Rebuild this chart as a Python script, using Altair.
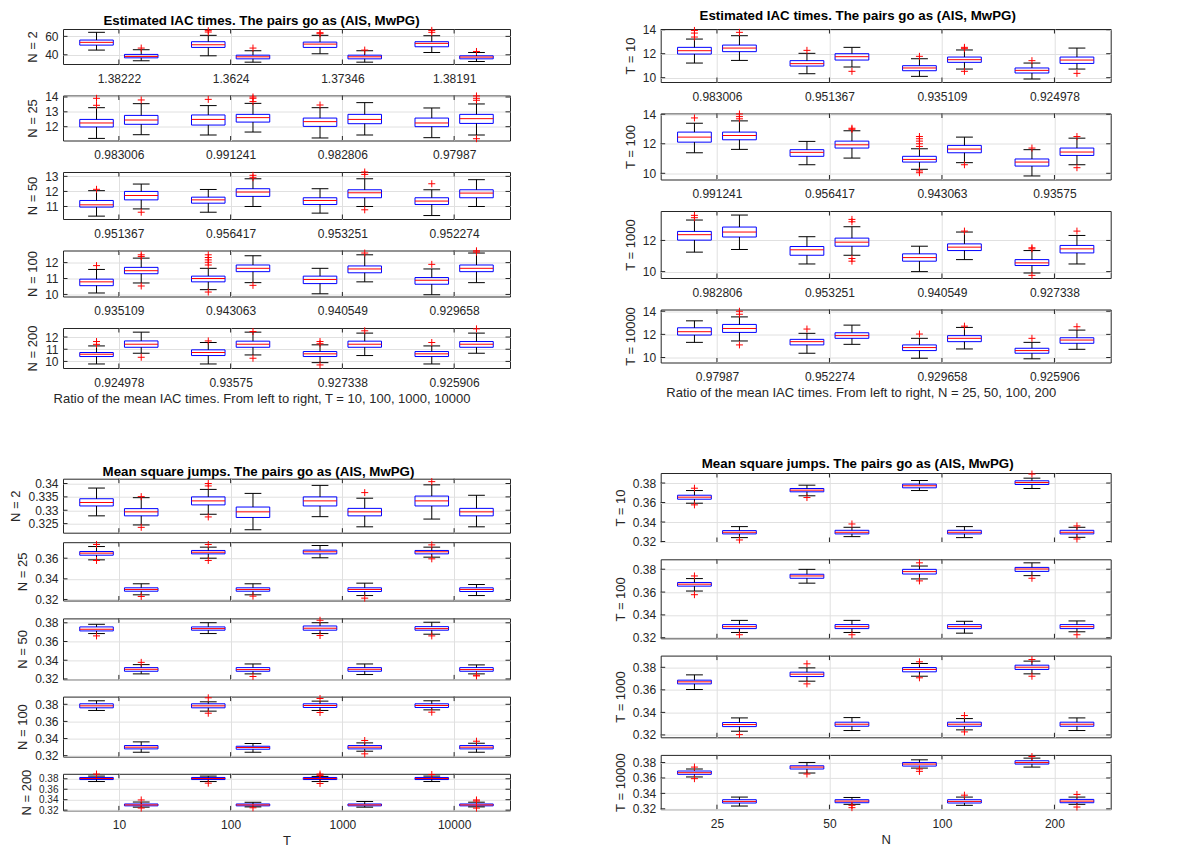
import altair as alt
import pandas as pd

# ------------------------------------------------------------------ data
# Each panel: lower whisker, Q1, median, Q3, upper whisker, outliers (8 boxes = 4 pairs AIS/MwPG)
iac_N2 = dict(lo=[45.1, 33.5, 38.9, 32.0, 41.1, 32.0, 42.5, 32.7],
              q1=[50.5, 36.7, 48.0, 35.6, 48.0, 35.6, 48.7, 35.6],
              med=[53.5, 38.2, 50.9, 37.8, 51.6, 37.8, 52.4, 37.5],
              q3=[56.0, 40.4, 54.2, 39.6, 53.8, 39.6, 54.2, 38.9],
              hi=[64.4, 45.5, 61.1, 44.4, 61.1, 44.4, 60.7, 42.5],
              out=[[], [47.3], [66.2, 64.7], [47.3], [64.0, 62.9], [45.1], [66.5, 64.4], [43.6]])
iac_N25 = dict(lo=[11.21, 11.46, 11.44, 11.64, 11.24, 11.44, 11.26, 11.44],
               q1=[11.98, 12.16, 12.11, 12.31, 12.02, 12.20, 12.00, 12.22],
               med=[12.25, 12.45, 12.49, 12.61, 12.34, 12.49, 12.25, 12.54],
               q3=[12.49, 12.76, 12.79, 12.83, 12.58, 12.83, 12.58, 12.83],
               hi=[13.28, 13.55, 13.42, 13.57, 13.28, 13.62, 13.26, 13.53],
               out=[[13.91, 13.44], [13.8], [13.84], [14.0, 13.91, 13.69], [13.46], [], [],
                    [14.07, 13.91, 13.78, 11.19]])
iac_N50 = dict(lo=[10.36, 10.84, 10.62, 11.0, 10.56, 11.0, 10.40, 11.0],
               q1=[10.96, 11.44, 11.22, 11.67, 11.13, 11.58, 11.13, 11.58],
               med=[11.11, 11.73, 11.44, 11.96, 11.40, 11.91, 11.36, 11.89],
               q3=[11.40, 12.00, 11.62, 12.18, 11.58, 12.11, 11.58, 12.11],
               hi=[12.05, 12.49, 12.13, 12.84, 12.18, 12.84, 12.11, 12.78],
               out=[[12.14], [10.62], [], [13.07, 12.91], [], [13.29, 13.13, 10.78], [12.51], []])
iac_N100 = dict(lo=[10.09, 10.72, 10.30, 10.74, 10.04, 10.79, 9.98, 10.74],
                q1=[10.55, 11.30, 10.79, 11.43, 10.68, 11.36, 10.64, 11.43],
                med=[10.79, 11.49, 11.00, 11.64, 10.94, 11.60, 10.89, 11.64],
                q3=[10.96, 11.70, 11.15, 11.85, 11.15, 11.79, 11.06, 11.85],
                hi=[11.57, 12.28, 11.64, 12.43, 11.64, 12.49, 11.60, 12.60],
                out=[[11.81], [12.49, 12.38, 10.53], [12.49, 12.32, 12.17, 12.02, 11.85, 10.15],
                     [10.57], [], [12.60], [11.89], [12.74, 12.66]])
iac_N200 = dict(lo=[9.79, 10.67, 9.79, 10.53, 9.90, 10.48, 9.79, 10.67],
                q1=[10.40, 11.16, 10.48, 11.16, 10.40, 11.16, 10.40, 11.16],
                med=[10.59, 11.41, 10.73, 11.41, 10.62, 11.41, 10.62, 11.41],
                q3=[10.73, 11.68, 10.95, 11.66, 10.81, 11.66, 10.81, 11.63],
                hi=[11.27, 12.40, 11.55, 12.40, 11.36, 12.32, 11.27, 12.32],
                out=[[11.63, 11.40], [10.34], [11.68], [12.45, 10.26], [11.63, 11.45, 9.71],
                     [12.51], [11.55], [12.67]])

iac_T10 = dict(lo=[11.22, 11.44, 10.33, 10.89, 10.11, 10.72, 9.89, 10.72],
               q1=[11.97, 12.17, 10.97, 11.47, 10.58, 11.28, 10.39, 11.19],
               med=[12.25, 12.47, 11.17, 11.75, 10.81, 11.50, 10.61, 11.47],
               q3=[12.53, 12.72, 11.42, 12.00, 11.00, 11.72, 10.81, 11.72],
               hi=[13.22, 13.50, 12.03, 12.53, 11.58, 12.31, 11.22, 12.47],
               out=[[13.94, 13.72, 13.39], [13.78], [12.28], [10.53], [11.78],
                    [12.53, 12.42, 10.53], [11.42], [10.36]])
iac_T100 = dict(lo=[11.39, 11.62, 10.58, 11.03, 10.27, 10.72, 9.82, 10.58],
                q1=[12.11, 12.27, 11.15, 11.71, 10.76, 11.39, 10.49, 11.21],
                med=[12.45, 12.56, 11.42, 11.93, 10.94, 11.64, 10.76, 11.44],
                q3=[12.79, 12.79, 11.60, 12.18, 11.15, 11.89, 10.97, 11.71],
                hi=[13.39, 13.55, 12.16, 12.88, 11.66, 12.45, 11.60, 12.38],
                out=[[13.75], [14.02, 13.84, 13.69], [], [13.05, 12.98],
                     [12.49, 12.34, 12.18, 12.0, 11.82, 10.16, 10.04], [10.58], [11.71], [12.49, 10.38]])
iac_T1000 = dict(lo=[11.25, 11.42, 10.49, 11.05, 10.00, 10.77, 9.91, 10.49],
                 q1=[12.02, 12.22, 11.05, 11.63, 10.67, 11.35, 10.39, 11.20],
                 med=[12.37, 12.54, 11.40, 11.89, 10.90, 11.57, 10.56, 11.46],
                 q3=[12.58, 12.86, 11.61, 12.15, 11.14, 11.78, 10.77, 11.68],
                 hi=[13.31, 13.63, 12.24, 12.88, 11.63, 12.54, 11.35, 12.32],
                 out=[[13.61, 13.46], [], [], [13.35, 13.20, 10.84, 10.67], [], [12.60],
                      [11.53, 11.46, 9.76], [12.60]])
iac_T10000 = dict(lo=[11.31, 11.43, 10.37, 11.14, 9.94, 10.74, 9.89, 10.71],
                  q1=[11.94, 12.17, 11.09, 11.66, 10.60, 11.37, 10.37, 11.23],
                  med=[12.23, 12.51, 11.37, 11.89, 10.86, 11.66, 10.60, 11.51],
                  q3=[12.57, 12.86, 11.57, 12.14, 11.09, 11.89, 10.80, 11.71],
                  hi=[13.17, 13.51, 12.09, 12.80, 11.66, 12.60, 11.31, 12.37],
                  out=[[], [14.0, 13.74, 11.09], [12.46], [], [12.03], [12.71], [11.66], [12.66]])

msj_N2 = dict(lo=[0.3279, 0.3245, 0.3285, 0.3227, 0.3276, 0.3238, 0.3267, 0.3238],
              q1=[0.3316, 0.3279, 0.3320, 0.3273, 0.3316, 0.3279, 0.3316, 0.3279],
              med=[0.3329, 0.3294, 0.3335, 0.3294, 0.3335, 0.3294, 0.3335, 0.3294],
              q3=[0.3343, 0.3306, 0.3350, 0.3312, 0.3350, 0.3307, 0.3353, 0.3307],
              hi=[0.3383, 0.3347, 0.3378, 0.3363, 0.3393, 0.3345, 0.3395, 0.3356],
              out=[[], [0.3351, 0.3236], [0.3400, 0.3391, 0.3275], [], [], [0.3366], [0.3407], []])
msj_N25 = dict(lo=[0.3584, 0.3245, 0.3600, 0.3245, 0.3604, 0.3238, 0.3610, 0.3238],
               q1=[0.3629, 0.3280, 0.3642, 0.3280, 0.3642, 0.3277, 0.3642, 0.3277],
               med=[0.3649, 0.3297, 0.3658, 0.3297, 0.3662, 0.3297, 0.3662, 0.3297],
               q3=[0.3665, 0.3313, 0.3675, 0.3313, 0.3678, 0.3313, 0.3675, 0.3313],
               hi=[0.3713, 0.3352, 0.3707, 0.3352, 0.3723, 0.3358, 0.3707, 0.3345],
               out=[[0.3733, 0.3578], [0.3229], [0.3733, 0.3578], [0.3232], [], [0.3213],
                    [0.3729, 0.3594], []])
msj_N50 = dict(lo=[0.3685, 0.3254, 0.3685, 0.3254, 0.3685, 0.3247, 0.3678, 0.3254],
               q1=[0.3713, 0.3282, 0.3721, 0.3282, 0.3721, 0.3282, 0.3721, 0.3282],
               med=[0.3731, 0.3303, 0.3738, 0.3300, 0.3742, 0.3303, 0.3738, 0.3300],
               q3=[0.3756, 0.3321, 0.3756, 0.3321, 0.3766, 0.3321, 0.3759, 0.3321],
               hi=[0.3784, 0.3353, 0.3801, 0.3360, 0.3801, 0.3360, 0.3806, 0.3350],
               out=[[0.3660], [0.3377], [], [0.3226], [0.3827, 0.3664], [], [0.3660],
                    [0.3240, 0.3232]])
msj_N100 = dict(lo=[0.3728, 0.3240, 0.3720, 0.3240, 0.3728, 0.3252, 0.3735, 0.3240],
                q1=[0.3759, 0.3279, 0.3759, 0.3275, 0.3763, 0.3279, 0.3763, 0.3279],
                med=[0.3782, 0.3299, 0.3782, 0.3295, 0.3786, 0.3299, 0.3786, 0.3299],
                q3=[0.3806, 0.3318, 0.3806, 0.3310, 0.3806, 0.3318, 0.3806, 0.3318],
                hi=[0.3841, 0.3361, 0.3829, 0.3342, 0.3837, 0.3349, 0.3841, 0.3345],
                out=[[], [], [0.3876, 0.3696], [], [0.3868, 0.3704], [0.3377, 0.3221], [0.3708],
                     [0.3369]])
msj_N200 = dict(lo=[0.3747, 0.3257, 0.3747, 0.3262, 0.3747, 0.3257, 0.3747, 0.3262],
                q1=[0.3785, 0.3282, 0.3785, 0.3282, 0.3785, 0.3282, 0.3785, 0.3282],
                med=[0.3805, 0.3300, 0.3805, 0.3300, 0.3805, 0.3300, 0.3805, 0.3300],
                q3=[0.3825, 0.3318, 0.3825, 0.3318, 0.3825, 0.3318, 0.3825, 0.3318],
                hi=[0.3851, 0.3355, 0.3851, 0.3350, 0.3845, 0.3365, 0.3851, 0.3352],
                out=[[0.3890], [0.3395, 0.3240], [0.3716], [0.3245], [0.3890, 0.3860, 0.3710], [],
                     [0.3882], [0.3395, 0.3375, 0.3239]])

msj_T10 = dict(lo=[0.3593, 0.3240, 0.3669, 0.3250, 0.3723, 0.3240, 0.3744, 0.3243],
               q1=[0.3634, 0.3278, 0.3710, 0.3278, 0.3751, 0.3278, 0.3785, 0.3278],
               med=[0.3655, 0.3295, 0.3727, 0.3295, 0.3772, 0.3295, 0.3806, 0.3295],
               q3=[0.3675, 0.3312, 0.3744, 0.3315, 0.3789, 0.3315, 0.3823, 0.3315],
               hi=[0.3723, 0.3353, 0.3778, 0.3346, 0.3826, 0.3353, 0.3850, 0.3346],
               out=[[0.3747, 0.3576], [0.3216], [0.3651], [0.3380], [], [], [0.3892],
                    [0.3360, 0.3226]])
msj_T100 = dict(lo=[0.3609, 0.3246, 0.3678, 0.3246, 0.3715, 0.3240, 0.3744, 0.3252],
                q1=[0.3652, 0.3280, 0.3721, 0.3280, 0.3758, 0.3280, 0.3781, 0.3280],
                med=[0.3669, 0.3297, 0.3741, 0.3297, 0.3779, 0.3297, 0.3802, 0.3297],
                q3=[0.3684, 0.3315, 0.3756, 0.3315, 0.3799, 0.3315, 0.3816, 0.3315],
                hi=[0.3718, 0.3352, 0.3799, 0.3352, 0.3828, 0.3344, 0.3856, 0.3347],
                out=[[0.3741, 0.3577], [0.3226], [], [0.3226], [0.3856, 0.3698], [], [0.3721],
                     [0.3226]])
msj_T1000 = dict(lo=[0.3603, 0.3233, 0.3677, 0.3239, 0.3721, 0.3245, 0.3742, 0.3239],
                 q1=[0.3653, 0.3274, 0.3718, 0.3277, 0.3760, 0.3277, 0.3781, 0.3277],
                 med=[0.3671, 0.3292, 0.3739, 0.3295, 0.3781, 0.3295, 0.3801, 0.3295],
                 q3=[0.3686, 0.3310, 0.3757, 0.3313, 0.3798, 0.3313, 0.3819, 0.3313],
                 hi=[0.3733, 0.3351, 0.3795, 0.3354, 0.3834, 0.3345, 0.3855, 0.3351],
                 out=[[], [0.3203], [0.3831, 0.3653], [], [0.3849, 0.3707], [0.3372, 0.3227],
                      [0.3869, 0.3721], []])
msj_T10000 = dict(lo=[0.3613, 0.3236, 0.3664, 0.3258, 0.3728, 0.3245, 0.3741, 0.3258],
                  q1=[0.3647, 0.3275, 0.3716, 0.3279, 0.3754, 0.3275, 0.3780, 0.3279],
                  med=[0.3668, 0.3296, 0.3741, 0.3300, 0.3780, 0.3296, 0.3801, 0.3300],
                  q3=[0.3690, 0.3318, 0.3758, 0.3318, 0.3801, 0.3318, 0.3823, 0.3322],
                  hi=[0.3716, 0.3352, 0.3801, 0.3347, 0.3835, 0.3352, 0.3857, 0.3352],
                  out=[[0.3741, 0.3591], [], [0.3651], [0.3245, 0.3215], [0.3716, 0.3686], [0.3377],
                       [0.3878], [0.3386, 0.3223]])

# tick labels
ratio_N2 = ["1.38222", "1.3624", "1.37346", "1.38191"]
ratio_N25 = ["0.983006", "0.991241", "0.982806", "0.97987"]
ratio_N50 = ["0.951367", "0.956417", "0.953251", "0.952274"]
ratio_N100 = ["0.935109", "0.943063", "0.940549", "0.929658"]
ratio_N200 = ["0.924978", "0.93575", "0.927338", "0.925906"]
ratio_T10 = ["0.983006", "0.951367", "0.935109", "0.924978"]
ratio_T100 = ["0.991241", "0.956417", "0.943063", "0.93575"]
ratio_T1000 = ["0.982806", "0.953251", "0.940549", "0.927338"]
ratio_T10000 = ["0.97987", "0.952274", "0.929658", "0.925906"]
T_labels = ["10", "100", "1000", "10000"]
N_labels = ["25", "50", "100", "200"]

# ------------------------------------------------------------------ style
BLUE, RED, DARK, GRIDC = "#0000ff", "#ff0000", "#262626", "#e0e0e0"
FONT = "Liberation Sans"
TICKLEN = 4.5
PLUS = "M-1,0L1,0M0,-1L0,1"
LBL, TTL, HEAD = 12, 13, 13.3


def panel(st, ydom, yticks, ytitle, w, h, xlabels=None, xtitle=None,
          xtitle_dx=0.0, title=None, title_dx=0.0, title_off=-2, ylbl=LBL):
    pos = [k + d for k in range(1, 5) for d in (-0.2, 0.2)]
    bx = pd.DataFrame({"pos": pos, "lo": st["lo"], "q1": st["q1"], "med": st["med"],
                       "q3": st["q3"], "hi": st["hi"]})
    bx["xl"] = bx["pos"] - 0.15
    bx["xr"] = bx["pos"] + 0.15
    bx["cl"] = bx["pos"] - 0.075
    bx["cr"] = bx["pos"] + 0.075
    outs = pd.DataFrame([{"pos": p, "v": v} for p, o in zip(pos, st["out"]) for v in o],
                        columns=["pos", "v"])
    xs = alt.Scale(domain=[0.5, 4.5], nice=False, zero=False)
    ys = alt.Scale(domain=ydom, nice=False, zero=False)

    xa = dict(values=[1, 2, 3, 4], grid=True, gridColor=GRIDC, tickSize=0,
              domain=False, labelFontSize=LBL, labelColor=DARK, labelPadding=9,
              titleFontSize=TTL, titleFontWeight="normal", titleColor=DARK)
    if xlabels:
        arr = "[" + ",".join("'%s'" % s for s in xlabels) + "]"
        xa["labelExpr"] = arr + "[round(datum.value) - 1]"
    else:
        xa["labels"] = False
    if xtitle:
        xa["title"] = xtitle
        xa["titleX"] = w / 2 + xtitle_dx
        xa["titlePadding"] = 4
    else:
        xa["title"] = ""
    ya = dict(values=yticks, grid=True, gridColor=GRIDC, tickSize=0, labelOverlap=False,
              domain=False, format="~r", labelFontSize=ylbl, labelColor=DARK, labelPadding=5,
              title=ytitle, titleFontSize=TTL, titleFontWeight="normal", titleColor=DARK,
              titlePadding=5)
    XA = alt.Axis(**xa)
    YA = alt.Axis(**ya)

    def X(f):
        return alt.X(f, scale=xs, axis=XA)

    def Y(f):
        return alt.Y(f, scale=ys, axis=YA)

    base = alt.Chart(bx)
    boxes = base.mark_rect(fillOpacity=0, stroke=BLUE, strokeWidth=1).encode(
        x=X("xl:Q"), x2="xr:Q", y=Y("q1:Q"), y2="q3:Q")
    wh_up = base.mark_rule(color="black", strokeWidth=1).encode(
        x=X("pos:Q"), y=Y("q3:Q"), y2="hi:Q")
    wh_dn = base.mark_rule(color="black", strokeWidth=1).encode(
        x=X("pos:Q"), y=Y("lo:Q"), y2="q1:Q")
    cap_up = base.mark_rule(color="black", strokeWidth=1).encode(
        x=X("cl:Q"), x2="cr:Q", y=Y("hi:Q"))
    cap_dn = base.mark_rule(color="black", strokeWidth=1).encode(
        x=X("cl:Q"), x2="cr:Q", y=Y("lo:Q"))
    med = base.mark_rule(color=RED, strokeWidth=1).encode(
        x=X("xl:Q"), x2="xr:Q", y=Y("med:Q"))
    pts = alt.Chart(outs).mark_point(shape=PLUS, size=49, stroke=RED, strokeWidth=1,
                                     filled=False, opacity=1).encode(x=X("pos:Q"), y=Y("v:Q"))

    xt = alt.Chart(pd.DataFrame({"t": [1, 2, 3, 4]}))
    yt = alt.Chart(pd.DataFrame({"t": yticks}))
    tk_top = xt.mark_rule(color=DARK).encode(x=X("t:Q"), y=alt.value(0), y2=alt.value(TICKLEN))
    tk_bot = xt.mark_rule(color=DARK).encode(x=X("t:Q"), y=alt.value(h),
                                             y2=alt.value(h - TICKLEN))
    tk_l = yt.mark_rule(color=DARK).encode(y=Y("t:Q"), x=alt.value(0), x2=alt.value(TICKLEN))
    tk_r = yt.mark_rule(color=DARK).encode(y=Y("t:Q"), x=alt.value(w - TICKLEN),
                                           x2=alt.value(w))

    props = dict(width=w, height=h)
    if title:
        props["title"] = alt.TitleParams(text=title, fontSize=HEAD, fontWeight="bold",
                                         font=FONT, color="black", anchor="middle",
                                         dx=title_dx, offset=title_off)
    return alt.layer(boxes, wh_up, wh_dn, cap_up, cap_dn, med, pts,
                     tk_top, tk_bot, tk_l, tk_r).properties(**props)


WL, WR = 447, 450
TITLE_IAC = "Estimated IAC times. The pairs go as (AIS, MwPG)"
TITLE_MSJ = "Mean square jumps. The pairs go as (AIS, MwPG)"
msj_ticks = [0.32, 0.34, 0.36, 0.38]

tl = [
    panel(iac_N2, [30, 68], [40, 60], "N = 2", WL, 35, ratio_N2,
          title=TITLE_IAC, title_dx=-25),
    panel(iac_N25, [11.07, 14.1], [12, 13, 14], "N = 25", WL, 45, ratio_N25),
    panel(iac_N50, [10.17, 13.29], [11, 12, 13], "N = 50", WL, 47, ratio_N50),
    panel(iac_N100, [9.87, 12.76], [10, 11, 12], "N = 100", WL, 46, ratio_N100),
    panel(iac_N200, [9.46, 12.74], [10, 11, 12], "N = 200", WL, 40, ratio_N200,
          xtitle="Ratio of the mean IAC times. From left to right, T = 10, 100, 1000, 10000",
          xtitle_dx=-25),
]
tr = [
    panel(iac_T10, [9.64, 14.06], [10, 12, 14], "T = 10", WR, 53, ratio_T10,
          title=TITLE_IAC, title_dx=-28, title_off=1),
    panel(iac_T100, [9.58, 14.05], [10, 12, 14], "T = 100", WR, 66, ratio_T100),
    panel(iac_T1000, [9.59, 13.89], [10, 12], "T = 1000", WR, 67, ratio_T1000),
    panel(iac_T10000, [9.57, 14.15], [10, 12, 14], "T = 10000", WR, 53, ratio_T10000,
          xtitle="Ratio of the mean IAC times. From left to right, N = 25, 50, 100, 200",
          xtitle_dx=-25),
]
bl = [
    panel(msj_N2, [0.3216, 0.3418], [0.325, 0.33, 0.335, 0.34], "N = 2", WL, 54,
          title=TITLE_MSJ, title_dx=-28),
    panel(msj_N25, [0.319, 0.3755], [0.32, 0.34, 0.36], "N = 25", WL, 58.3),
    panel(msj_N50, [0.3195, 0.3847], msj_ticks, "N = 50", WL, 61),
    panel(msj_N100, [0.3189, 0.389], msj_ticks, "N = 100", WL, 60),
    panel(msj_N200, [0.3195, 0.3895], msj_ticks, "N = 200", WL, 36.6, T_labels,
          xtitle="T", ylbl=10),
]
br = [
    panel(msj_T10, [0.3195, 0.3903], msj_ticks, "T = 10", WR, 69,
          title=TITLE_MSJ, title_dx=-28),
    panel(msj_T100, [0.3195, 0.3887], msj_ticks, "T = 100", WR, 79),
    panel(msj_T1000, [0.3179, 0.3904], msj_ticks, "T = 1000", WR, 81.7),
    panel(msj_T10000, [0.3195, 0.3899], msj_ticks, "T = 10000", WR, 54.3, N_labels,
          xtitle="N"),
]

tl_fig = alt.vconcat(*tl, spacing=31.5, bounds="flush")
tr_fig = alt.vconcat(*tr, spacing=31.5, bounds="flush")
bl_fig = alt.vconcat(bl[0], alt.vconcat(*bl[1:], spacing=17.2, bounds="flush"), spacing=4.5)
br_fig = alt.vconcat(*br, spacing=17.3, bounds="flush")

left = alt.vconcat(tl_fig, bl_fig, spacing=57.7)
right = alt.vconcat(tr_fig, br_fig, spacing=56)

chart = alt.hconcat(left, right, spacing=102.7).properties(
    padding={"left": 1, "top": 0, "right": 0, "bottom": 0},
    background="white",
).configure(font=FONT).configure_view(stroke=DARK, strokeWidth=1).configure_axis(
    labelFont=FONT, titleFont=FONT)

chart.save("out.html", embed_options={"renderer": "svg", "actions": False})
